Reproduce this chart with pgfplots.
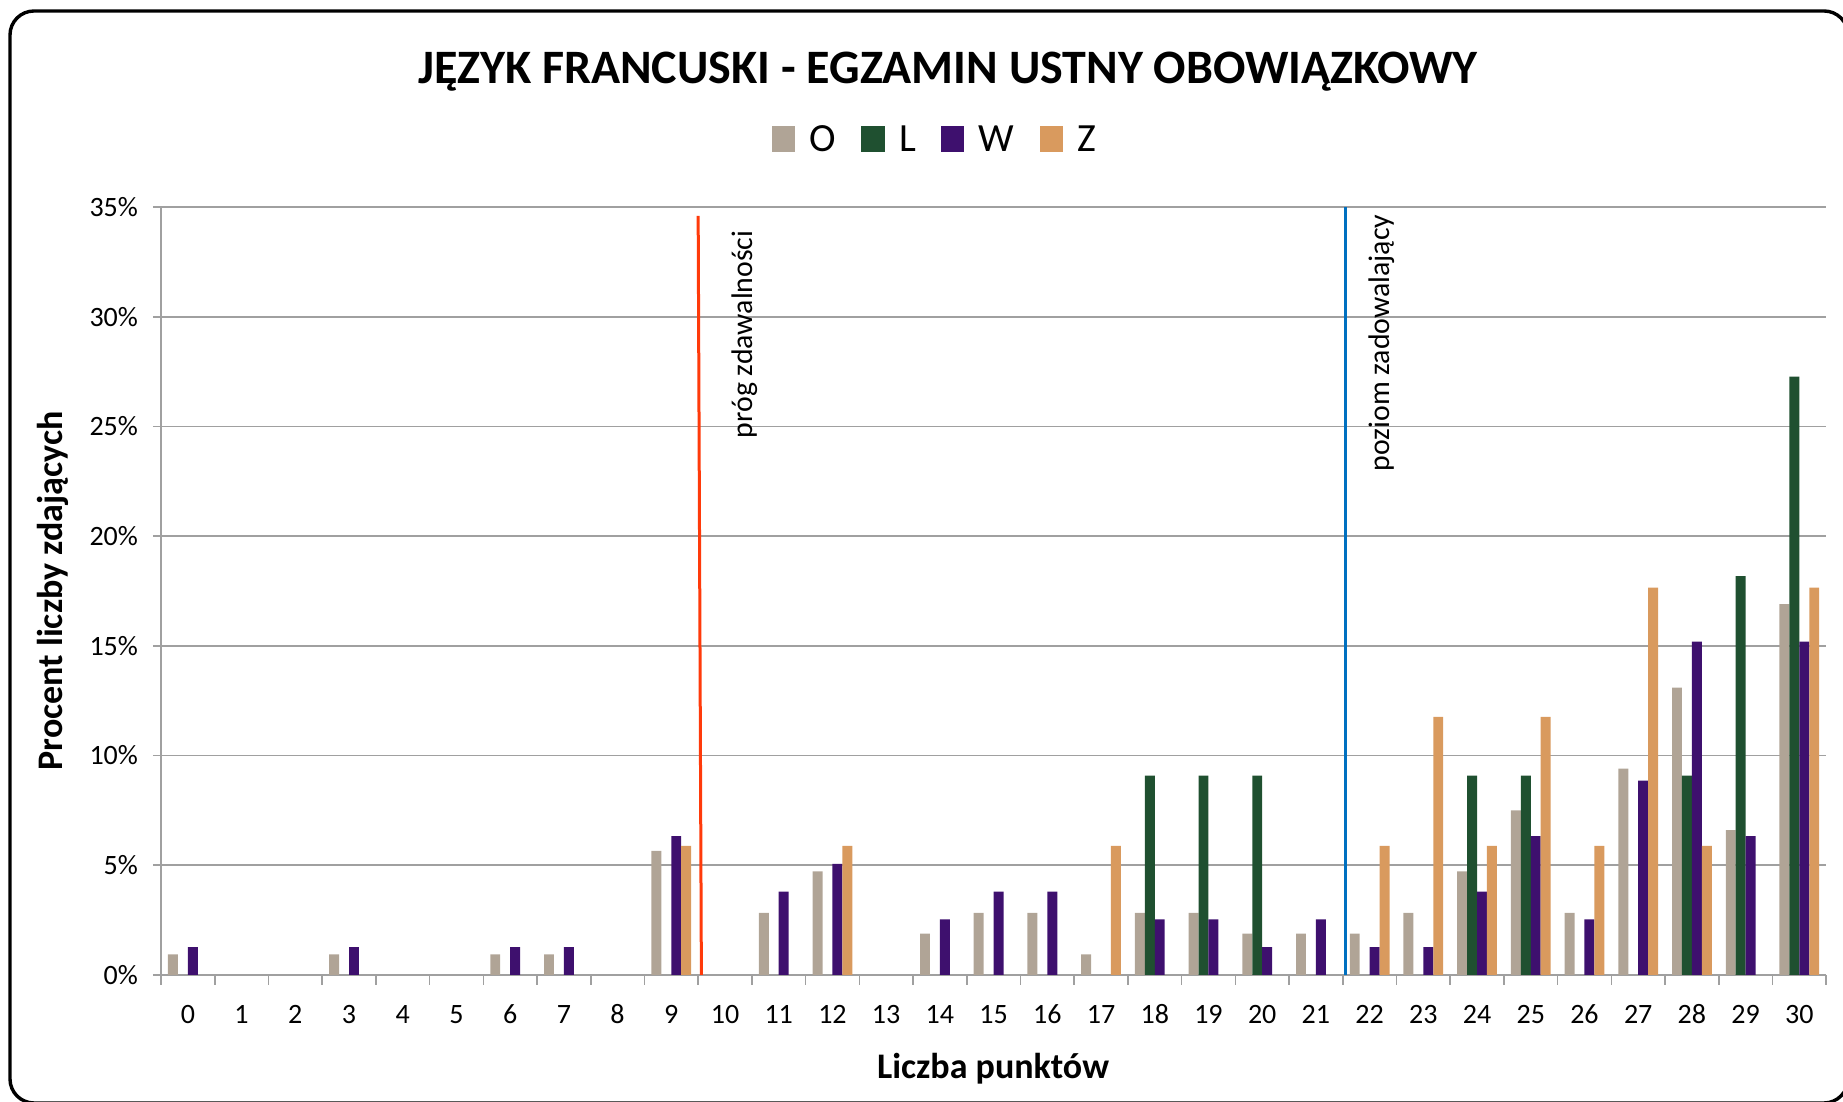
\documentclass[border=0pt]{standalone}
\usepackage{pgfplots}
\pgfplotsset{compat=1.18}
\usepackage{fontspec}
\setmainfont{Carlito}

\definecolor{oc}{HTML}{B0A496}
\definecolor{lc}{HTML}{1F5030}
\definecolor{wc}{HTML}{3E106E}
\definecolor{zc}{HTML}{D99A5E}
\definecolor{gridc}{HTML}{A0A0A0}
\definecolor{redline}{RGB}{255,58,10}
\definecolor{blueline}{RGB}{0,112,192}

\begin{document}
\begin{tikzpicture}
\useasboundingbox (0,0) rectangle (921.5pt,551pt);
\draw[line width=1.7pt, rounded corners=12pt] (5pt,-0.5pt) rectangle (924pt,545.5pt);

\begin{axis}[
  at={(80.5pt,63.5pt)}, anchor=south west,
  scale only axis, width=832.6pt, height=384pt,
  xmin=-0.5, xmax=30.5, ymin=0, ymax=35,
  ybar=0pt, bar width=0.185,
  axis x line=bottom, axis y line=left,
  axis line style={-, draw=gridc, line width=0.8pt},
  ymajorgrids, grid style={draw=gridc, line width=0.8pt},
  xtick={0,...,30}, ytick={0,5,...,35},
  minor xtick={-0.5,0.5,...,30.5},
  every major x tick/.append style={draw=none},
  tick style={draw=gridc, line width=0.8pt},
  tick align=outside, major tick length=4pt, minor tick length=5pt,
  /pgf/number format/assume math mode=true,
  ticklabel style={font=\fontsize{14}{17}\selectfont},
  xticklabel style={anchor=base, yshift=-20.5pt},
  yticklabel style={xshift=-4pt},
  yticklabel={\pgfmathprintnumber{\tick}\%},
  legend style={at={(axis description cs:0.4654,1.087)}, anchor=center,
    draw=none, fill=none, legend columns=-1,
    font=\fontsize{20}{24}\selectfont,
    /tikz/every even column/.append style={column sep=10.5pt}},
  legend image code/.code={
    \fill[#1] (0pt,-5.9pt) rectangle (11.75pt,7pt);
    \path (17pt,0pt);},
]
\addplot[fill=oc, draw=none] coordinates {
(0,0.94)(3,0.94)(6,0.94)(7,0.94)(9,5.66)(11,2.83)(12,4.72)(14,1.89)(15,2.83)(16,2.83)
(17,0.94)(18,2.83)(19,2.83)(20,1.89)(21,1.89)(22,1.89)(23,2.83)(24,4.72)(25,7.5)(26,2.83)
(27,9.4)(28,13.1)(29,6.6)(30,16.9)};
\addlegendentry{O}
\addplot[fill=lc, draw=none] coordinates {
(18,9.09)(19,9.09)(20,9.09)(24,9.09)(25,9.09)(28,9.09)(29,18.18)(30,27.27)};
\addlegendentry{L}
\addplot[fill=wc, draw=none] coordinates {
(0,1.27)(3,1.27)(6,1.27)(7,1.27)(9,6.33)(11,3.80)(12,5.06)(14,2.53)(15,3.80)(16,3.80)
(18,2.53)(19,2.53)(20,1.27)(21,2.53)(22,1.27)(23,1.27)(24,3.80)(25,6.33)(26,2.53)
(27,8.86)(28,15.19)(29,6.33)(30,15.19)};
\addlegendentry{W}
\addplot[fill=zc, draw=none] coordinates {
(9,5.88)(12,5.88)(17,5.88)(22,5.88)(23,11.76)(24,5.88)(25,11.76)(26,5.88)
(27,17.65)(28,5.88)(30,17.65)};
\addlegendentry{Z}

% progi
\draw[redline, line width=1.5pt] (axis cs:9.56,0) -- (axis cs:9.50,34.6);
\draw[blueline, line width=1.5pt] (axis cs:21.56,0) -- (axis cs:21.56,35);
\node[rotate=90, anchor=west, inner sep=0pt, font=\fontsize{14.9}{18}\selectfont]
  at (axis cs:10.37,24.45) {próg zdawalności};
\node[rotate=90, anchor=west, inner sep=0pt, font=\fontsize{14.9}{18}\selectfont]
  at (axis cs:22.23,22.94) {poziom zadowalający};
\end{axis}

\node[font=\bfseries\fontsize{24}{29}\selectfont] at (474pt,515.2pt)
  {JĘZYK FRANCUSKI - EGZAMIN USTNY OBOWIĄZKOWY};
\node[font=\bfseries\fontsize{18}{22}\selectfont] at (496.5pt,16.5pt) {Liczba punktów};
\node[rotate=90, font=\bfseries\fontsize{18}{22}\selectfont] at (26.5pt,255.5pt)
  {Procent liczby zdających};
\end{tikzpicture}
\end{document}
